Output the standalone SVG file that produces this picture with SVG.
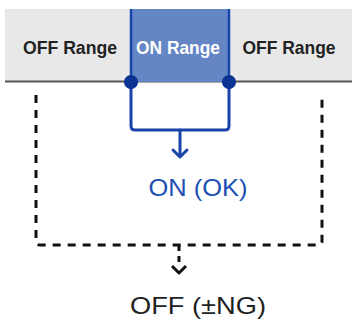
<svg xmlns="http://www.w3.org/2000/svg" width="352" height="320" viewBox="0 0 352 320">
<style>
.lbl{font-family:"Liberation Sans",Arial,sans-serif;font-weight:bold;font-size:19px;text-anchor:middle}
.big{font-family:"Liberation Sans",Arial,sans-serif;font-size:24px;text-anchor:middle}
.blue{fill:none;stroke:#1a44a8;stroke-width:3;stroke-linejoin:round;stroke-linecap:round}
.dash{fill:none;stroke:#111;stroke-width:3;stroke-dasharray:8 7}
</style>
<g id="band">
<rect x="5" y="9" width="347" height="73" fill="#e8e8e8"/>
<line x1="5" y1="81.5" x2="352" y2="81.5" stroke="#555" stroke-width="2"/>
</g>
<g id="off-left"><text class="lbl" x="70" y="54" fill="#222" textLength="94" lengthAdjust="spacingAndGlyphs">OFF Range</text></g>
<g id="on-range">
<rect x="131" y="9" width="98" height="73" fill="#6586c4"/>
<line x1="131" y1="9" x2="131" y2="82" stroke="#1a44a8" stroke-width="2.5"/>
<line x1="229" y1="9" x2="229" y2="82" stroke="#1a44a8" stroke-width="2.5"/>
<text class="lbl" x="178" y="54" fill="#fff" textLength="84" lengthAdjust="spacingAndGlyphs">ON Range</text>
</g>
<g id="off-right"><text class="lbl" x="289" y="54" fill="#222" textLength="93" lengthAdjust="spacingAndGlyphs">OFF Range</text></g>
<g id="connectors">
<path class="blue" d="M131 82 V126 Q131 130 135 130 H225 Q229 130 229 126 V82"/>
<path class="blue" d="M180 130 V156"/>
<path class="blue" d="M173 150 L180 157 L187 150"/>
<path class="dash" d="M36 95 V241 Q36 245 40 245 H318 Q322 245 322 241 V95"/>
<path d="M179 245 V262" fill="none" stroke="#111" stroke-width="3" stroke-dasharray="6 5"/>
<path d="M172 266 L179 273 L186 266" fill="none" stroke="#111" stroke-width="3" stroke-linejoin="round"/>
<circle cx="131" cy="82" r="7" fill="#0c3394"/>
<circle cx="229" cy="82" r="7" fill="#0c3394"/>
</g>
<g id="on-ok"><text class="big" x="198" y="196" fill="#2050b4" textLength="99" lengthAdjust="spacingAndGlyphs">ON (OK)</text></g>
<g id="off-ng"><text class="big" x="198" y="314" fill="#222" textLength="136" lengthAdjust="spacingAndGlyphs">OFF (±NG)</text></g>
</svg>
